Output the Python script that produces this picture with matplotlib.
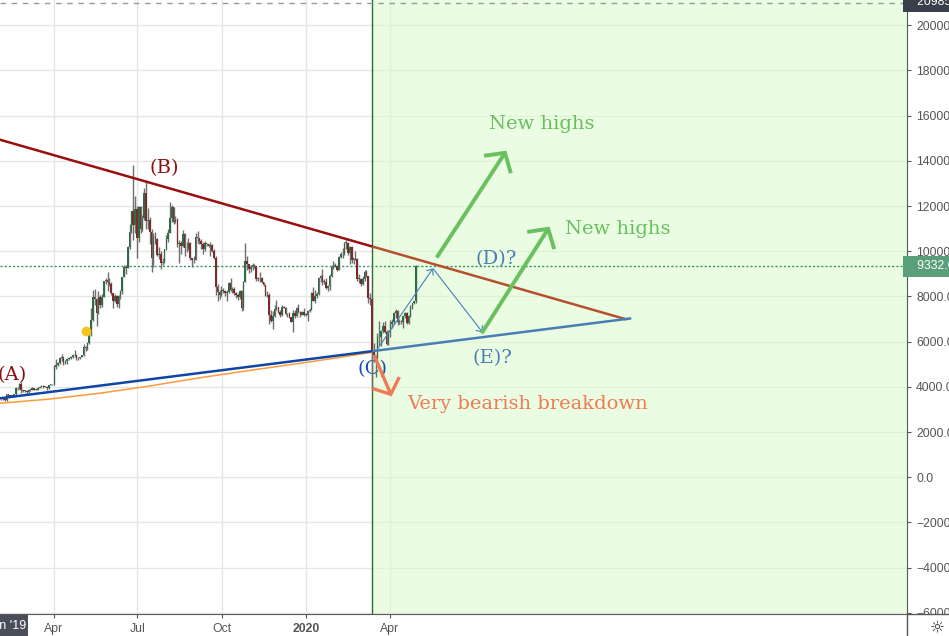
import numpy as np
import pandas as pd
import matplotlib
matplotlib.use('Agg')
import matplotlib.pyplot as plt
import matplotlib.dates as mdates
import matplotlib.transforms as mtransforms
from matplotlib.patches import FancyArrowPatch, ArrowStyle, Rectangle
from matplotlib.lines import Line2D

# BTC/USD, two-day candles starting 2019-02-03 (open = previous close)
first_open = 3440
closes = [
    3460, 3470, 3400, 3660, 3630, 3610, 3600, 3670, 3930, 3950, 4140, 3840, 3820,
    3830, 3790, 3860, 3880, 3950, 3880, 3880, 3960, 4000, 4030, 4000, 4010, 3930, 4080, 4110, 4110,
    4880, 4970, 5060, 5290, 5300, 5070, 5150, 5230, 5290, 5330, 5400, 5400, 5270, 5290, 5330,
    5400, 5770, 5720, 5940, 6350, 6970, 7990, 7880, 7260, 7990, 7630, 7990, 8670, 8720, 8660,
    8550, 8130, 7800, 8000, 7650, 8000, 8240, 8860, 9320, 9270, 10200, 10860, 11780, 11150, 11880,
    10580, 11980, 11000, 11450, 12570, 11350, 11400, 10850, 9680, 10630, 10530, 9850, 9880, 9480, 9530, 10080,
    10530, 10820, 11470, 11960, 11300, 11380, 10320, 10350, 10230, 10760, 10130, 10140, 10360, 9700, 9600,
    9630, 10640, 10580, 10470, 10340, 10100, 10360, 10300, 10250, 10270, 9990, 9700, 8430, 8190, 8050,
    8300, 8240, 8140, 8210, 8590, 8280, 8330, 8170, 8080, 7960, 8230, 7470, 8660, 9550, 9430, 9200,
    9310, 9410, 9340, 8770, 8820, 8800, 8640, 8500, 8040, 8080, 7170, 6900, 7150, 7460, 7550,
    7300, 7200, 7520, 7510, 7220, 7210, 7070, 6880, 7280, 7150, 7510, 7320, 7200, 7300, 7200,
    7200, 7340, 7410, 8160, 7820, 8020, 8110, 8810, 8910, 8700, 8630, 8380, 8440, 8910, 9320, 9350,
    9350, 9170, 9750, 9900, 9860, 10370, 10370, 9920, 10180, 9600, 9690, 9660, 8790, 8790,
    8540, 8760, 9080, 8900, 7940, 7900, 5600, 5390, 5380, 6190, 6190, 6490, 6680, 6410, 5900, 6420,
    6790, 6870, 7270, 7370, 6860, 6910, 6860, 7120, 7260, 6840, 7130, 7550, 7700, 7780, 9333,
]
highs = [
    3480, 3490, 3480, 3700, 3680, 3650, 3640, 3700, 3980, 4000, 4170, 4200, 3880,
    3870, 3860, 3890, 3920, 3990, 3950, 3910, 3990, 4050, 4060, 4080, 4040, 4020, 4090, 4140, 4130,
    4950, 5250, 5100, 5340, 5470, 5320, 5180, 5260, 5340, 5360, 5450, 5610, 5440, 5330, 5340,
    5420, 5890, 5800, 5980, 6430, 7500, 8300, 8320, 7950, 8260, 8080, 8120, 8700, 8820, 9070,
    8800, 8630, 8150, 8120, 8050, 8080, 8300, 8880, 9400, 9410, 10250, 11200, 11800, 13800, 12450,
    12000, 12000, 12000, 11600, 12800, 13150, 11900, 11500, 11000, 10800, 10870, 10600, 10200, 10000, 9690, 10120,
    10700, 10980, 12200, 12050, 11970, 11550, 11450, 10500, 10460, 10950, 10800, 10400, 10600, 10400, 9700,
    9800, 10800, 10900, 10600, 10550, 10390, 10440, 10380, 10320, 10400, 10300, 10090, 9800, 8550, 8300,
    8480, 8360, 8300, 8300, 8650, 8820, 8420, 8400, 8200, 8150, 8300, 8300, 8700, 10350, 9800, 9450,
    9380, 9500, 9440, 9350, 8880, 9070, 8840, 8640, 8500, 8220, 8150, 7380, 7350, 7600, 7850,
    7550, 7420, 7600, 7560, 7530, 7270, 7290, 7100, 7380, 7400, 7520, 7680, 7350, 7370, 7510,
    7250, 7400, 7500, 8200, 8400, 8280, 8200, 8880, 8950, 9200, 8760, 8800, 8500, 8980, 9400, 9550,
    9470, 9400, 9800, 9950, 10150, 10400, 10480, 10400, 10220, 10250, 9700, 9990, 9680, 8980,
    8800, 8900, 9150, 9180, 8920, 8150, 7960, 5950, 5420, 6380, 6900, 6500, 6850, 6900, 6500, 6520,
    6950, 7000, 7330, 7450, 7400, 7000, 6950, 7150, 7300, 7300, 7180, 7600, 7730, 7800, 9400,
]
lows = [
    3400, 3420, 3380, 3390, 3580, 3570, 3560, 3590, 3650, 3870, 3900, 3740, 3760,
    3780, 3700, 3710, 3830, 3860, 3850, 3840, 3870, 3950, 3970, 3960, 3980, 3880, 3920, 4060, 4080,
    4100, 4800, 4900, 5000, 5160, 4950, 5020, 5030, 5200, 5250, 5290, 5330, 5180, 5200, 5220,
    5320, 5380, 5570, 5650, 5900, 6270, 6900, 7630, 6700, 7210, 7500, 7550, 7970, 8550, 8230,
    8470, 8050, 7500, 7740, 7550, 7500, 7890, 8120, 8850, 9000, 9250, 10100, 10800, 10500, 10800,
    9700, 10400, 10800, 10900, 11400, 11000, 11000, 10300, 9100, 9300, 10300, 9800, 9650, 9200, 9400, 9470,
    10050, 10430, 10800, 11300, 11200, 11250, 10200, 9500, 9900, 10200, 9800, 9960, 10050, 9600, 9320,
    9500, 9600, 10380, 10320, 10100, 9900, 10000, 10250, 10180, 9800, 9950, 9650, 8050, 7800, 7900,
    8000, 8150, 8000, 7800, 8150, 8250, 8150, 8050, 7930, 7850, 7900, 7350, 7400, 8650, 9150, 9050,
    9100, 9180, 9240, 8700, 8700, 8620, 8600, 8450, 8000, 7970, 6800, 6850, 6550, 7100, 7400,
    7260, 7100, 7120, 7470, 7190, 7100, 7050, 6850, 6430, 7050, 7100, 7250, 7100, 7180, 7150,
    7150, 6900, 7300, 7400, 7780, 7700, 7950, 8080, 8620, 8500, 8550, 8310, 8250, 8280, 8860, 9200,
    9300, 9130, 9150, 9700, 9720, 9850, 10100, 9850, 9450, 9470, 9450, 9600, 8690, 8600,
    8450, 8500, 8700, 8850, 7700, 7600, 3860, 5100, 4440, 5250, 5860, 5800, 6400, 6380, 5850, 5860,
    6200, 6600, 6800, 7050, 6750, 6800, 6780, 6600, 7050, 6800, 6800, 7100, 7450, 7680, 7730,
]
candle_dates = pd.date_range('2019-02-03', periods=len(closes), freq='2D')

# drawings
res_dates = ['2019-02-01', '2020-12-15']
res_prices = [14940, 6980]
sup_dates = ['2019-02-01', '2020-12-20']
sup_prices = [3490, 7030]
ma_dates = ['2019-02-01', '2019-03-28', '2019-05-22', '2019-07-15', '2019-09-07', '2019-11-01',
            '2019-12-25', '2020-02-06', '2020-03-12']
ma_prices = [3270, 3460, 3720, 4040, 4400, 4730, 5040, 5300, 5520]
path_dates = ['2020-03-19', '2020-05-18', '2020-07-11']
path_prices = [5700, 9240, 6410]
split_date = '2020-03-13'
last_price = 9332.6
top_price = 20985

d = lambda s: mdates.date2num(pd.Timestamp(s))

fig = plt.figure(figsize=(9.49, 6.36), dpi=100)
ax = fig.add_axes([0, 22 / 636, 907 / 949, 614 / 636])

x0 = d('2020-01-01') - 306.3 / 0.918
ax.set_xlim(x0, x0 + 907 / 0.918)
ax.set_ylim(-6055, 21120)

# grid / ticks
ax.set_yticks(range(-6000, 20001, 2000))
ax.set_yticklabels(['{:.1f}'.format(v).replace('-', '\u2212') for v in range(-6000, 20001, 2000)],
                   family='Liberation Sans')
tick_dates = ['2019-04-01', '2019-07-01', '2019-10-01', '2020-01-01', '2020-04-01']
ax.set_xticks([d(t) for t in tick_dates])
ax.set_xticklabels(['Apr', 'Jul', 'Oct', '2020', 'Apr'], family='Liberation Sans')
ax.get_xticklabels()[3].set_fontweight('bold')
ax.grid(True, color='#e6e6e6', lw=1)
ax.set_axisbelow(True)
ax.yaxis.tick_right()
ax.tick_params(axis='y', length=3, pad=3.5, labelsize=8.8, colors='#555555')
ax.tick_params(axis='x', length=3, pad=3.5, labelsize=8.8, colors='#555555')
for s in ['left', 'top']:
    ax.spines[s].set_visible(False)
for s in ['right', 'bottom']:
    ax.spines[s].set_color('#5a5a5a')

# price scale labels are cut at the time axis, as in the app
scale_clip = mtransforms.TransformedBbox(
    mtransforms.Bbox([[907 / 949, 22 / 636], [1, 1]]), fig.transFigure)
for t in ax.get_yticklabels():
    t.set_clip_on(True)
    t.set_clip_box(scale_clip)

# highlighted date range
ax.axvspan(d(split_date), x0 + 907 / 0.918, facecolor='#dcfbd0', alpha=0.6, lw=0, zorder=0.7)
ax.axvline(d(split_date), color='#2f6b2f', lw=1, zorder=2)

# price lines
ax.axhline(last_price, color='#3d8f5f', lw=1, ls=(0, (1.5, 1.5)), zorder=2)
ax.axhline(top_price, color='#9a9a9a', lw=1, ls=(0, (4, 4)), zorder=2)

# candles
opens = [first_open] + closes[:-1]
xc = mdates.date2num(candle_dates) - 0.5
up = np.array(closes) >= np.array(opens)
body_lo = np.minimum(opens, closes)
body_h = np.maximum(np.abs(np.array(closes) - np.array(opens)), 25)
ax.vlines(xc, lows, highs, color='#6e6e6e', lw=1.0, zorder=3)
ax.bar(xc, body_h, bottom=body_lo, width=1.7,
       color=np.where(up, '#2b6e45', '#7e2a2a'), lw=0, zorder=3.2)

# moving average
ax.plot([d(t) for t in ma_dates], ma_prices, color='#ff9a3c', lw=1.1, zorder=3.5)

# trendlines, coloured differently inside the highlighted range
xs = d(split_date)
for dates, prices, c_left, c_right, lw in [
        (res_dates, res_prices, '#990f0f', '#b4502e', 1.8),
        (sup_dates, sup_prices, '#0f45a5', '#4a7db3', 1.8)]:
    xd = [d(t) for t in dates]
    ym = np.interp(xs, xd, prices)
    ax.plot([xd[0], xs], [prices[0], ym], color=c_left, lw=lw, zorder=4, solid_capstyle='butt')
    ax.plot([xs, xd[1]], [ym, prices[1]], color=c_right, lw=lw, zorder=4, solid_capstyle='butt')

def arrow(p0, p1, color, lw, hl, hw):
    a = FancyArrowPatch((d(p0[0]), p0[1]), (d(p1[0]), p1[1]),
                        arrowstyle=ArrowStyle('->', head_length=hl, head_width=hw),
                        mutation_scale=1, color=color, lw=lw, shrinkA=0, shrinkB=0,
                        zorder=5, capstyle='butt', joinstyle='miter')
    ax.add_patch(a)

for i in range(2):
    arrow((path_dates[i], path_prices[i]), (path_dates[i + 1], path_prices[i + 1]),
          '#4a80b5', 0.8, 3.5, 3)
arrow(('2020-05-22', 9720), ('2020-08-06', 14450), '#6abf5f', 2.8, 10, 11.5)
arrow(('2020-07-10', 6370), ('2020-09-22', 11090), '#6abf5f', 2.8, 10, 11.5)
arrow(('2020-03-15', 5390), ('2020-04-03', 3580), '#ef7b55', 2.4, 9, 10.5)

ax.plot([d('2019-05-06')], [6450], 'o', color='#f7c21a', ms=6, zorder=5)

# labels
lab = dict(fontsize=14, family='DejaVu Serif', ha='center', va='center')
ax.text(d('2019-02-15'), 4510, '(A)', color='#8b0f0f', zorder=6, **lab)
ax.text(d('2019-07-30'), 13700, '(B)', color='#8b0f0f', zorder=6, **lab)
ax.text(d('2020-03-13'), 4770, '(C)', color='#1a4da8', zorder=2.5, **lab)
ax.text(d('2020-07-26'), 9635, '(D)?', color='#4a7fb0', zorder=6, **lab)
ax.text(d('2020-07-22'), 5260, '(E)?', color='#4a7fb0', zorder=6, **lab)
ax.text(d('2020-09-13'), 15650, 'New highs', color='#6abf5f', zorder=6, **lab)
ax.text(d('2020-12-05'), 11005, 'New highs', color='#6abf5f', zorder=6, **lab)
ax.text(d('2020-08-29'), 3230, 'Very bearish breakdown', color='#ef7b55', zorder=6, **lab)

# price boxes on the axis
bt = mtransforms.blended_transform_factory(ax.transAxes, ax.transData)
box = dict(ha='left', va='center', fontsize=8.8, family='Liberation Sans', color='white',
           clip_on=False, zorder=10, transform=bt)
ax.text(1.0, last_price, '   9332.6', bbox=dict(boxstyle='square,pad=0.35', fc='#5a9f7a', ec='none'), **box)
ax.text(1.0, top_price + 60, '   20985.0', bbox=dict(boxstyle='square,pad=0.35', fc='#3b3f4c', ec='none'), **box)

# frame extensions, corner items
fig.add_artist(Line2D([907 / 949, 1], [22 / 636, 22 / 636], color='#5a5a5a', lw=1))
fig.add_artist(Line2D([907 / 949, 907 / 949], [0, 22 / 636], color='#5a5a5a', lw=1))
fig.add_artist(Rectangle((0, 0), 28 / 949, 21 / 636, facecolor='#4a4e5a', edgecolor='none'))
fig.text(26 / 949, 10 / 636, "Jan '19", ha='right', va='center', fontsize=9,
         family='Liberation Sans', color='white')
fig.text(937 / 949, 8 / 636, '\u263c', ha='center', va='center', fontsize=12, color='#333333')

fig.savefig('out.png', dpi=100)
